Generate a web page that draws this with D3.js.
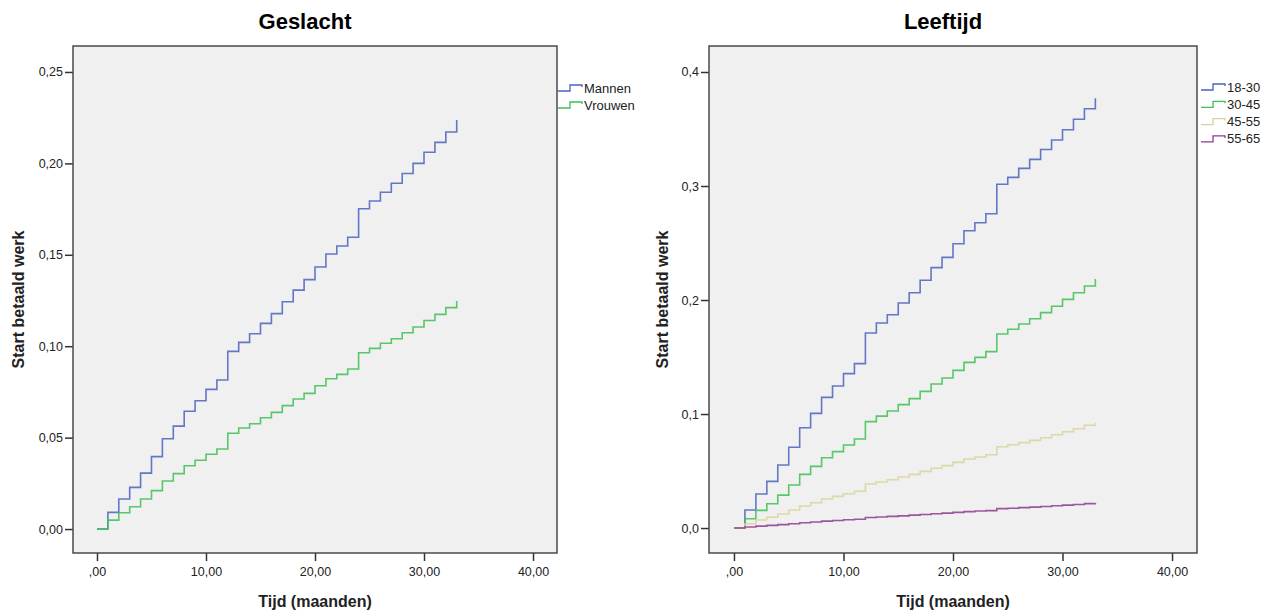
<!DOCTYPE html>
<html>
<head>
<meta charset="utf-8">
<script src="https://cdn.jsdelivr.net/npm/d3@7"></script>
<style>
  body { margin: 0; background: #fff; }
  svg { display: block; }
  text { font-family: "Liberation Sans", Arial, sans-serif; }
</style>
</head>
<body>
<div id="chart-area"></div>
<script>
// months 0..33 (last value = vertical jump at end of follow-up)
var months = d3.range(0, 34);

var mannen = [0, 0.0091, 0.0164, 0.0228, 0.0306, 0.0396, 0.0494, 0.0563, 0.0644, 0.0702,
  0.0764, 0.0815, 0.0972, 0.1021, 0.1068, 0.1125, 0.1178, 0.1243, 0.1307, 0.1364,
  0.1433, 0.1504, 0.1548, 0.1596, 0.1752, 0.1794, 0.1842, 0.1891, 0.1945, 0.2000,
  0.2061, 0.2115, 0.2172, 0.2237];
var vrouwen = [0, 0.0049, 0.0089, 0.0122, 0.0164, 0.0210, 0.0263, 0.0303, 0.0346, 0.0376,
  0.0409, 0.0438, 0.0524, 0.0553, 0.0576, 0.0609, 0.0638, 0.0675, 0.0711, 0.0742,
  0.0784, 0.0822, 0.0846, 0.0875, 0.0964, 0.0988, 0.1016, 0.1041, 0.1074, 0.1105,
  0.1141, 0.1174, 0.1211, 0.1247];

var age1830 = [0, 0.0158, 0.0298, 0.0409, 0.0553, 0.0708, 0.0880, 0.1006, 0.1146, 0.1246,
  0.1354, 0.1442, 0.1711, 0.1798, 0.1871, 0.1974, 0.2064, 0.2173, 0.2284, 0.2374,
  0.2494, 0.2608, 0.2678, 0.2757, 0.3015, 0.3076, 0.3155, 0.3234, 0.3320, 0.3404,
  0.3494, 0.3585, 0.3678, 0.3769];
var age3045 = [0, 0.0082, 0.0155, 0.0213, 0.0289, 0.0377, 0.0471, 0.0541, 0.0617, 0.0670,
  0.0728, 0.0781, 0.0933, 0.0982, 0.1026, 0.1082, 0.1135, 0.1199, 0.1263, 0.1316,
  0.1383, 0.1453, 0.1497, 0.1547, 0.1702, 0.1743, 0.1789, 0.1836, 0.1889, 0.1945,
  0.2006, 0.2064, 0.2123, 0.2184];
var age4555 = [0, 0.0038, 0.0070, 0.0094, 0.0123, 0.0158, 0.0193, 0.0222, 0.0254, 0.0278,
  0.0301, 0.0322, 0.0386, 0.0404, 0.0424, 0.0447, 0.0471, 0.0497, 0.0524, 0.0547,
  0.0576, 0.0605, 0.0623, 0.0643, 0.0713, 0.0731, 0.0749, 0.0769, 0.0792, 0.0818,
  0.0845, 0.0871, 0.0901, 0.0924];
var age5565 = [0, 0.0009, 0.0017, 0.0023, 0.0030, 0.0038, 0.0046, 0.0053, 0.0061, 0.0066,
  0.0072, 0.0077, 0.0093, 0.0097, 0.0102, 0.0107, 0.0113, 0.0119, 0.0125, 0.0131,
  0.0137, 0.0144, 0.0149, 0.0153, 0.0170, 0.0174, 0.0179, 0.0183, 0.0189, 0.0195,
  0.0201, 0.0207, 0.0214, 0.0220];

var xTicks = [0, 10, 20, 30, 40];
var xTickLabels = [",00", "10,00", "20,00", "30,00", "40,00"];
var yTicksLeft = [0, 0.05, 0.10, 0.15, 0.20, 0.25];
var yTickLabelsLeft = ["0,00", "0,05", "0,10", "0,15", "0,20", "0,25"];
var yTicksRight = [0, 0.1, 0.2, 0.3, 0.4];
var yTickLabelsRight = ["0,0", "0,1", "0,2", "0,3", "0,4"];

var svg = d3.select("#chart-area")
  .append("svg")
  .attr("width", 1273)
  .attr("height", 614);

function panel(opts) {
  var x = d3.scaleLinear().domain(opts.xDomain).range([opts.left, opts.right]);
  var y = d3.scaleLinear().domain(opts.yDomain).range([opts.bottom, opts.top]);
  var g = svg.append("g");

  g.append("rect")
    .attr("x", opts.left).attr("y", opts.top)
    .attr("width", opts.right - opts.left)
    .attr("height", opts.bottom - opts.top)
    .attr("fill", "#f0f0f0");

  // y axis
  var yAxis = d3.axisLeft(y)
    .tickValues(opts.yTicks)
    .tickSize(8)
    .tickPadding(2)
    .tickFormat((d, i) => opts.yLabels[i]);
  var ya = g.append("g")
    .attr("transform", "translate(" + opts.left + ",0)")
    .call(yAxis);
  ya.select(".domain").remove();
  ya.selectAll(".tick line").attr("stroke", "#333").attr("stroke-width", 1.5);
  ya.selectAll("text").attr("font-size", "12.5px").attr("fill", "#222")
    .attr("font-family", "Liberation Sans, Arial, sans-serif");

  // x axis
  var xAxis = d3.axisBottom(x)
    .tickValues(xTicks)
    .tickSize(8)
    .tickPadding(6)
    .tickFormat((d, i) => xTickLabels[i]);
  var xa = g.append("g")
    .attr("transform", "translate(0," + opts.bottom + ")")
    .call(xAxis);
  xa.select(".domain").remove();
  xa.selectAll(".tick line").attr("stroke", "#333").attr("stroke-width", 1.5);
  xa.selectAll("text").attr("font-size", "12.5px").attr("fill", "#222")
    .attr("font-family", "Liberation Sans, Arial, sans-serif");

  // step lines
  var line = d3.line()
    .x((d, i) => x(months[i]))
    .y(d => y(d))
    .curve(d3.curveStepAfter);

  opts.series.forEach(s => {
    g.append("path")
      .datum(s.values)
      .attr("d", line)
      .attr("fill", "none")
      .attr("stroke", s.color)
      .attr("stroke-width", 1.6)
      .attr("opacity", 0.85);
  });

  g.append("rect")
    .attr("x", opts.left).attr("y", opts.top)
    .attr("width", opts.right - opts.left)
    .attr("height", opts.bottom - opts.top)
    .attr("fill", "none")
    .attr("stroke", "#4a4a4a")
    .attr("stroke-width", 1.5);

  // legend
  opts.series.forEach((s, i) => {
    var ly = opts.legendY + i * opts.legendStep;
    var lx = opts.legendX;
    g.append("path")
      .attr("d", "M" + lx + "," + (ly + 3) + "H" + (lx + 12) + "V" + (ly - 3) + "H" + (lx + 24) + "V" + (ly - 1))
      .attr("fill", "none")
      .attr("stroke", s.color)
      .attr("stroke-width", 1.3);
    g.append("text")
      .attr("x", lx + 26)
      .attr("y", ly + 4.5)
      .attr("font-size", "13px")
      .attr("fill", "#222")
      .text(s.name);
  });

  // titles
  svg.append("text")
    .attr("x", (opts.left + opts.right) / 2 - 10)
    .attr("y", 29)
    .attr("text-anchor", "middle")
    .attr("font-family", "Lato, 'Open Sans', sans-serif")
    .attr("font-weight", "bold")
    .attr("font-size", "22px")
    .attr("fill", "#000")
    .text(opts.title);

  svg.append("text")
    .attr("x", (opts.left + opts.right) / 2)
    .attr("y", 607)
    .attr("text-anchor", "middle")
    .attr("font-weight", "bold")
    .attr("font-size", "16px")
    .attr("fill", "#222")
    .text("Tijd (maanden)");

  svg.append("text")
    .attr("transform", "translate(" + opts.yTitleX + "," + ((opts.top + opts.bottom) / 2) + ") rotate(-90)")
    .attr("text-anchor", "middle")
    .attr("font-weight", "bold")
    .attr("font-size", "16px")
    .attr("fill", "#222")
    .text("Start betaald werk");
}

panel({
  title: "Geslacht",
  left: 73, right: 557, top: 46, bottom: 553,
  xDomain: [-2.2, 42.2],
  yDomain: [-0.0131, 0.2642],
  yTicks: yTicksLeft, yLabels: yTickLabelsLeft,
  yTitleX: 24,
  legendX: 558, legendY: 88, legendStep: 17,
  series: [
    { name: "Mannen", values: mannen, color: "#4a62c0" },
    { name: "Vrouwen", values: vrouwen, color: "#3cc052" }
  ]
});

panel({
  title: "Leeftijd",
  left: 709, right: 1197, top: 46, bottom: 553,
  xDomain: [-2.28, 42.28],
  yDomain: [-0.0219, 0.4228],
  yTicks: yTicksRight, yLabels: yTickLabelsRight,
  yTitleX: 668,
  legendX: 1201, legendY: 87, legendStep: 17.3,
  series: [
    { name: "18-30", values: age1830, color: "#4a62c0" },
    { name: "30-45", values: age3045, color: "#3cc052" },
    { name: "45-55", values: age4555, color: "#d8d39a" },
    { name: "55-65", values: age5565, color: "#8e3a8e" }
  ]
});
</script>
</body>
</html>
